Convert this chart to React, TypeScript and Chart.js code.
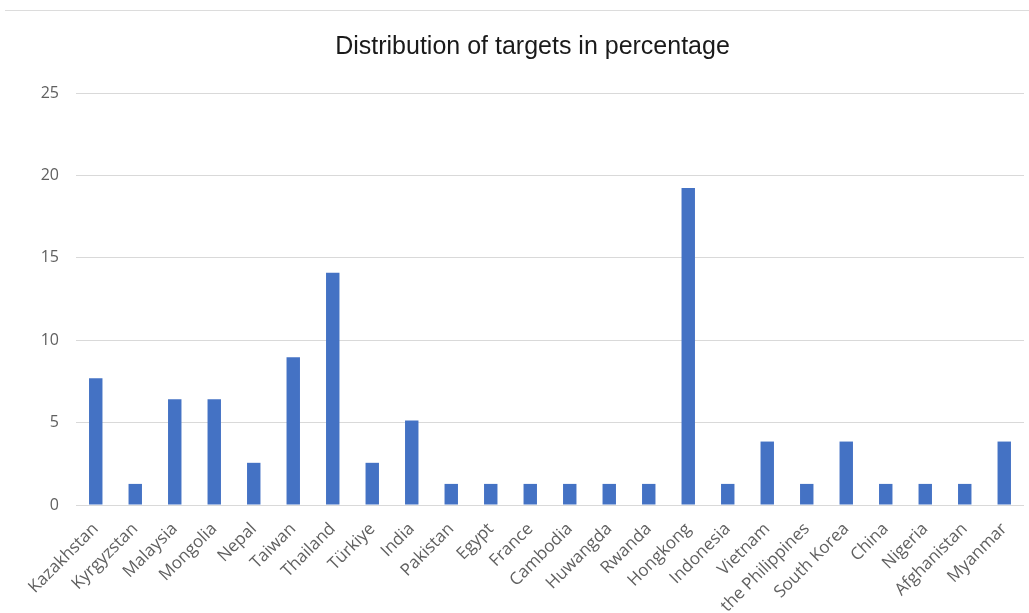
import React, { useEffect, useRef } from "react";
import { Chart, registerables } from "chart.js";

Chart.register(...registerables);

const categories = [
  "Kazakhstan", "Kyrgyzstan", "Malaysia", "Mongolia", "Nepal", "Taiwan", "Thailand",
  "Türkiye", "India", "Pakistan", "Egypt", "France", "Cambodia", "Huwangda", "Rwanda",
  "Hongkong", "Indonesia", "Vietnam", "the Philippines", "South Korea", "China",
  "Nigeria", "Afghanistan", "Myanmar",
];

const percentages = [
  7.69, 1.28, 6.41, 6.41, 2.56, 8.97, 14.1,
  2.56, 5.13, 1.28, 1.28, 1.28, 1.28, 1.28, 1.28,
  19.23, 1.28, 3.85, 1.28, 3.85, 1.28,
  1.28, 1.28, 3.85,
];

const yTicks = [0, 5, 10, 15, 20, 25];

const titleText = "Distribution of targets in percentage";

export default function App() {
  const canvasRef = useRef<HTMLCanvasElement | null>(null);

  useEffect(() => {
    if (!canvasRef.current) return;
    const chart = new Chart(canvasRef.current, {
      type: "bar",
      data: {
        labels: categories,
        datasets: [
          {
            label: "Percentage",
            data: percentages,
            backgroundColor: "#4472C4",
            barPercentage: 0.34,
            categoryPercentage: 1,
          },
        ],
      },
      options: {
        responsive: false,
        animation: false,
        layout: { padding: { left: 41, right: 5, top: 0, bottom: 0 } },
        plugins: {
          legend: { display: false },
          tooltip: { enabled: false },
          title: {
            display: true,
            text: titleText,
            color: "#1a1a1a",
            font: { family: "Liberation Sans", size: 25, weight: "normal" },
            padding: { top: 32, bottom: 31 },
          },
        },
        scales: {
          x: {
            grid: { display: false },
            border: { display: false },
            afterFit: (scale: any) => {
              scale.height = 108;
              scale.paddingLeft = 0;
              scale.paddingRight = 0;
            },
            ticks: {
              color: "#606060",
              font: { family: "Open Sans", size: 17 },
              minRotation: 45,
              maxRotation: 45,
              autoSkip: false,
              padding: 6,
            },
          },
          y: {
            min: 0,
            max: 25,
            afterBuildTicks: (axis: any) => {
              axis.ticks = yTicks.map((v) => ({ value: v }));
            },
            afterFit: (scale: any) => {
              scale.width = 35;
            },
            grid: { color: "#d9d9d9", drawTicks: false, lineWidth: 1 },
            border: { display: false },
            ticks: {
              color: "#606060",
              font: { family: "Open Sans", size: 16 },
              padding: 17,
            },
          },
        },
      },
    });
    return () => chart.destroy();
  }, []);

  return (
    <div style={{ position: "absolute", left: 0, top: 0, width: 1029, height: 613, background: "#fff", overflow: "hidden" }}>
      <div style={{ position: "absolute", left: 5, right: 0, top: 10, height: 0, borderTop: "1px solid #dcdcdc" }} />
      <canvas ref={canvasRef} width={1029} height={613} style={{ display: "block" }} />
    </div>
  );
}
